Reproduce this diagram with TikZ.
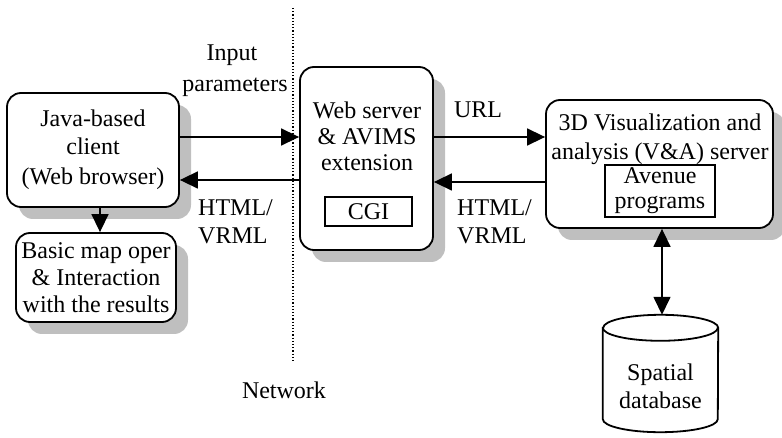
\documentclass[tikz,border=0pt]{standalone}
\usepackage{fontspec}
\setmainfont{Liberation Serif}
\usetikzlibrary{arrows.meta,shadows}
\begin{document}
\begin{tikzpicture}[x=1pt,y=-1pt,
  every node/.style={font=\fontsize{24}{28}\selectfont, inner sep=0pt, align=center},
  shad/.style={drop shadow={shadow xshift=12pt, shadow yshift=-12pt, fill=gray!50, opacity=1}},
  rbox/.style={draw, line width=1.8pt, rounded corners=14pt, fill=white, shad},
  sbox/.style={draw, line width=1.2pt},
  plain/.style={draw=none, fill=none},
  arr/.style={line width=1.5pt, -{Triangle[length=18pt,width=17pt]}},
  darr/.style={line width=1.5pt, {Triangle[length=18pt,width=17pt]}-{Triangle[length=18pt,width=17pt]}},
  netline/.style={line width=1.2pt, dotted}]
\useasboundingbox (0,0) rectangle (782,438);

% network divider
\coordinate (ntop) at (293,8);
\coordinate (nbot) at (293,362);
\draw[netline] (ntop) -- (nbot);

% boxes
\node[rbox, minimum width=172pt, minimum height=114pt] (client) at (93,150)
  {Java-based\\client\\[2pt](Web browser)};
\node[rbox, minimum width=133pt, minimum height=183pt] (server) at (366.5,158.5) {};
\node[plain, font=\fontsize{24}{26}\selectfont] (servertxt) at (367,136) {Web server\\\& AVIMS\\extension};
\node[sbox, minimum width=87pt, minimum height=29pt] (cgi) at (368.5,211.5) {CGI};

\node[rbox, minimum width=227pt, minimum height=128pt] (va) at (659.5,164) {};
\node[plain, font=\fontsize{24}{29}\selectfont] (vatxt) at (660,139) {3D Visualization and\\analysis (V\&A) server};
\node[sbox, minimum width=110pt, minimum height=52pt, font=\fontsize{24}{25}\selectfont] (avenue) at (660,191) {Avenue\\programs};

\node[rbox, minimum width=160pt, minimum height=89pt, font=\fontsize{24}{27}\selectfont] (basic) at (96,277.5)
  {Basic map oper\\\& Interaction\\with the results};

% database cylinder
\node[plain, minimum width=115pt, minimum height=117pt] (db) at (660.5,373.5) {};
\begin{scope}[xshift=10pt, yshift=-6pt]
\fill[gray!50] ([yshift=-13pt]db.north west) -- ([yshift=13pt]db.south west)
  arc[start angle=180, end angle=360, x radius=57.5pt, y radius=13pt]
  -- ([yshift=-13pt]db.north east)
  arc[start angle=0, end angle=180, x radius=57.5pt, y radius=13pt] -- cycle;
\end{scope}
\draw[line width=1.8pt, fill=white] ([yshift=-13pt]db.north west) -- ([yshift=13pt]db.south west)
  arc[start angle=180, end angle=360, x radius=57.5pt, y radius=13pt]
  -- ([yshift=-13pt]db.north east)
  arc[start angle=0, end angle=180, x radius=57.5pt, y radius=13pt] -- cycle;
\draw[line width=1.8pt] ([yshift=-13pt]db.north west)
  arc[start angle=180, end angle=360, x radius=57.5pt, y radius=13pt];
\node[plain] (dbtxt) at (660.5,386) {Spatial\\database};

% connectors
\draw[arr] (client.east |- 0,137) -- (server.west |- 0,137);
\draw[arr] (server.west |- 0,180) -- (client.east |- 0,180);
\draw[arr] (server.east |- 0,137) -- (va.west |- 0,137);
\draw[arr] (va.west |- 0,182) -- (server.east |- 0,182);
\draw[arr] (client.south -| 100,0) -- (basic.north -| 100,0);
\draw[darr] (va.south -| 662,0) -- (db.north -| 662,0);

% labels
\node (inp1) at (232,55) {Input};
\node (inp2) at (235,87) {parameters};
\node[align=left, anchor=west] (hl) at (198,222) {HTML/\\VRML};
\node[align=left, anchor=west] (hr) at (457,222) {HTML/\\VRML};
\node (url) at (478,110) {URL};
\node (net) at (284,390) {Network};
\end{tikzpicture}
\end{document}
